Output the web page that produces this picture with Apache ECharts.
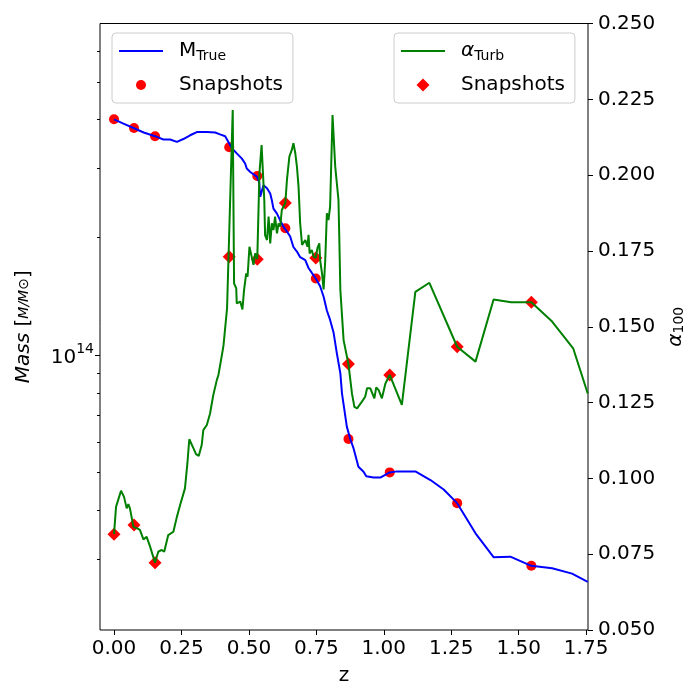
<!DOCTYPE html>
<html><head><meta charset="utf-8">
<script src="https://cdn.jsdelivr.net/npm/echarts@6/dist/echarts.min.js"></script>
<style>html,body{margin:0;padding:0;background:#fff}#c{width:700px;height:700px}</style>
</head><body><div id="c"></div>
<script>
// ---- data ----
const massZ = [0, 0.035, 0.072, 0.11, 0.152, 0.183, 0.208, 0.233, 0.257, 0.282, 0.307, 0.344, 0.375, 0.393, 0.412, 0.424, 0.437, 0.455, 0.474, 0.486, 0.492, 0.505, 0.511, 0.529, 0.538, 0.542, 0.548, 0.554, 0.567, 0.579, 0.585, 0.591, 0.604, 0.616, 0.628, 0.641, 0.653, 0.665, 0.678, 0.690, 0.709, 0.721, 0.734, 0.748, 0.764, 0.777, 0.789, 0.801, 0.814, 0.826, 0.839, 0.845, 0.863, 0.876, 0.888, 0.906, 0.925, 0.935, 0.962, 0.987, 1.022, 1.049, 1.117, 1.173, 1.222, 1.272, 1.340, 1.407, 1.469, 1.547, 1.624, 1.698, 1.756];
const massVal = [4.01e14, 3.91e14, 3.81e14, 3.71e14, 3.63e14, 3.56e14, 3.56e14, 3.51e14, 3.57e14, 3.65e14, 3.72e14, 3.72e14, 3.71e14, 3.67e14, 3.63e14, 3.51e14, 3.38e14, 3.28e14, 3.18e14, 3.09e14, 3.00e14, 2.94e14, 2.92e14, 2.86e14, 2.77e14, 2.54e14, 2.54e14, 2.72e14, 2.67e14, 2.59e14, 2.49e14, 2.37e14, 2.30e14, 2.21e14, 2.13e14, 2.07e14, 2.01e14, 1.89e14, 1.84e14, 1.78e14, 1.75e14, 1.67e14, 1.62e14, 1.57e14, 1.50e14, 1.41e14, 1.30e14, 1.23e14, 1.14e14, 1.01e14, 8.98e13, 7.98e13, 6.56e13, 6.09e13, 5.77e13, 5.18e13, 5.03e13, 4.90e13, 4.86e13, 4.86e13, 5.01e13, 5.04e13, 5.04e13, 4.79e13, 4.53e13, 4.18e13, 3.50e13, 3.04e13, 3.05e13, 2.89e13, 2.85e13, 2.76e13, 2.63e13];

const alphaZ = [0, 0.0074, 0.026, 0.037, 0.047, 0.053, 0.059, 0.072, 0.075, 0.086, 0.096, 0.109, 0.121, 0.134, 0.152, 0.164, 0.177, 0.186, 0.201, 0.220, 0.233, 0.245, 0.263, 0.272, 0.279, 0.292, 0.298, 0.304, 0.314, 0.325, 0.331, 0.344, 0.356, 0.368, 0.381, 0.387, 0.403, 0.406, 0.419, 0.424, 0.440, 0.445, 0.453, 0.455, 0.461, 0.468, 0.476, 0.482, 0.490, 0.495, 0.502, 0.507, 0.517, 0.523, 0.531, 0.539, 0.547, 0.552, 0.557, 0.560, 0.567, 0.573, 0.579, 0.585, 0.591, 0.597, 0.604, 0.610, 0.616, 0.622, 0.635, 0.641, 0.650, 0.659, 0.665, 0.672, 0.678, 0.684, 0.690, 0.697, 0.703, 0.709, 0.717, 0.721, 0.725, 0.733, 0.740, 0.748, 0.754, 0.761, 0.764, 0.771, 0.777, 0.783, 0.789, 0.795, 0.801, 0.810, 0.820, 0.832, 0.836, 0.839, 0.851, 0.861, 0.869, 0.882, 0.891, 0.901, 0.919, 0.931, 0.938, 0.950, 0.956, 0.965, 0.972, 0.981, 0.993, 1.006, 1.022, 1.067, 1.117, 1.169, 1.272, 1.340, 1.407, 1.472, 1.547, 1.624, 1.702, 1.756];
const alphaVal = [0.0816, 0.0906, 0.0959, 0.0939, 0.0901, 0.0915, 0.0901, 0.0840, 0.0846, 0.0835, 0.0830, 0.0799, 0.0807, 0.0774, 0.0722, 0.0758, 0.0764, 0.0758, 0.0813, 0.0824, 0.0873, 0.0912, 0.0967, 0.1050, 0.1129, 0.1104, 0.1107, 0.1080, 0.1074, 0.1110, 0.1159, 0.1176, 0.1214, 0.1275, 0.1324, 0.1341, 0.1423, 0.1440, 0.1561, 0.1566, 0.2215, 0.1643, 0.1627, 0.1577, 0.1572, 0.1583, 0.1557, 0.1621, 0.1676, 0.1665, 0.1764, 0.1770, 0.1704, 0.1742, 0.1723, 0.2006, 0.2099, 0.2094, 0.1918, 0.1802, 0.1786, 0.1863, 0.1775, 0.1841, 0.1819, 0.1863, 0.1808, 0.1841, 0.1830, 0.1885, 0.1908, 0.1984, 0.2061, 0.2083, 0.2105, 0.2072, 0.2028, 0.1962, 0.1841, 0.1770, 0.1764, 0.1786, 0.1764, 0.1803, 0.1742, 0.1753, 0.1731, 0.1727, 0.1759, 0.1775, 0.1720, 0.1676, 0.1623, 0.1720, 0.1874, 0.1852, 0.1896, 0.2198, 0.2028, 0.1918, 0.1753, 0.1621, 0.1456, 0.1412, 0.1377, 0.1280, 0.1236, 0.1231, 0.1253, 0.1269, 0.1297, 0.1297, 0.1302, 0.1264, 0.1300, 0.1291, 0.1264, 0.1313, 0.1341, 0.1242, 0.1615, 0.1645, 0.1434, 0.1385, 0.1590, 0.1581, 0.1581, 0.1517, 0.1429, 0.1280];

const snapZ = [0, 0.074, 0.152, 0.427, 0.531, 0.635, 0.748, 0.869, 1.022, 1.272, 1.547];
const snapMass = [4.01e14, 3.81e14, 3.63e14, 3.40e14, 2.87e14, 2.11e14, 1.57e14, 6.1e13, 5.01e13, 4.18e13, 2.89e13];
const snapAlpha = [0.0816, 0.0846, 0.0722, 0.1731, 0.1723, 0.1908, 0.1727, 0.1377, 0.1341, 0.1434, 0.1581];

const xTickValues = [0, 0.25, 0.5, 0.75, 1.0, 1.25, 1.5, 1.75];
const massMinorTicks = [3e13, 4e13, 5e13, 6e13, 7e13, 8e13, 9e13, 2e14, 3e14, 4e14, 5e14, 6e14];
const massMajorTicks = [1e14];
const massMajorLabels = ['{b|10}{p|14}'];

// ---- axis ranges ----
const X_MIN = -0.052, X_MAX = 1.757;
const M_MIN = 1.98e13, M_MAX = 7.05e14;
const A_MIN = 0.05, A_MAX = 0.25, A_STEP = 0.025;

const FONT = 'DejaVu Sans';
const pairs = (xs, ys) => xs.map((x, i) => [x, ys[i]]);
const L = Math.log10;

// legend diamond icon whose bounding box matches the 44x13 legend item box
const DIAMOND_ICON = 'path://M-22,-6.5L-22,-6.5M22,6.5L22,6.5M0,-6.5L6.5,0L0,6.5L-6.5,0Z';

const chart = echarts.init(document.getElementById('c'), null, {renderer: 'canvas'});

const baseLabel = {fontSize: 20, color: '#000', fontFamily: FONT};

const legendCommon = {
  orient: 'vertical', top: 33, padding: [6, 10, 6, 6], itemGap: 10,
  itemWidth: 44, itemHeight: 10, selectedMode: false, symbolKeepAspect: true,
  backgroundColor: 'rgba(255,255,255,0.8)', borderColor: '#cccccc', borderWidth: 1, borderRadius: 4,
  textStyle: {
    fontSize: 20, color: '#000', fontFamily: FONT, lineHeight: 24, padding: [0, 0, 0, 11],
    rich: {
      m: {fontSize: 20, color: '#000', fontFamily: FONT, lineHeight: 24},
      g: {fontSize: 20, color: '#000', fontFamily: FONT, fontStyle: 'italic', lineHeight: 24},
      s: {fontSize: 14, color: '#000', fontFamily: FONT, lineHeight: 14, verticalAlign: 'bottom'}
    }
  }
};

const option = {
  animation: false,
  backgroundColor: '#fff',
  grid: {left: 100, right: 112, top: 23.5, bottom: 70, show: true, borderColor: '#000', borderWidth: 1,
         backgroundColor: 'transparent', containLabel: false, outerBoundsMode: 'none'},
  legend: [
    Object.assign({}, legendCommon, {
      left: 112,
      data: [{name: 'M_True', itemStyle: {opacity: 0}}, {name: 'SnapM', icon: 'circle'}],
      formatter: n => n === 'M_True' ? '{m|M}{s|True}' : 'Snapshots'
    }),
    Object.assign({}, legendCommon, {
      left: 394, itemHeight: 13,
      data: [{name: 'alphaTurb', itemStyle: {opacity: 0}}, {name: 'SnapA', icon: DIAMOND_ICON}],
      formatter: n => n === 'alphaTurb' ? '{g|α}{s|Turb}' : 'Snapshots'
    })
  ],
  xAxis: {
    type: 'value', min: X_MIN, max: X_MAX,
    name: 'z', nameLocation: 'middle', nameGap: 36, nameTextStyle: baseLabel,
    axisLine: {show: false, onZero: false},
    axisTick: {show: true, length: 5, inside: false, customValues: xTickValues, lineStyle: {color: '#000', width: 1}},
    axisLabel: Object.assign({customValues: xTickValues, margin: 9, formatter: v => Number(v).toFixed(2)}, baseLabel),
    splitLine: {show: false}
  },
  yAxis: [
    {type: 'log', logBase: 10, min: M_MIN, max: M_MAX, position: 'left', show: false,
     axisLine: {show: false}, axisTick: {show: false}, axisLabel: {show: false}, splitLine: {show: false}},
    {type: 'value', min: A_MIN, max: A_MAX, interval: A_STEP, position: 'right',
     name: '{a|α}{s|100}', nameLocation: 'middle', nameRotate: 90, nameGap: 68,
     nameTextStyle: {fontSize: 20, color: '#000', fontFamily: FONT,
       rich: {a: {fontSize: 20, fontStyle: 'italic', fontFamily: FONT, color: '#000'},
              s: {fontSize: 14, fontFamily: FONT, color: '#000', verticalAlign: 'bottom'}}},
     axisLine: {show: false, onZero: false},
     axisTick: {show: true, length: 5, inside: false, lineStyle: {color: '#000', width: 1}},
     axisLabel: Object.assign({margin: 10, formatter: v => Number(v).toFixed(3)}, baseLabel),
     splitLine: {show: false}},
    {type: 'value', min: L(M_MIN), max: L(M_MAX), position: 'left',
     axisLine: {show: false, onZero: false},
     axisTick: {show: true, length: 3, inside: false, customValues: massMinorTicks.map(L), lineStyle: {color: '#000', width: 1}},
     axisLabel: {show: false}, splitLine: {show: false}},
    {type: 'value', min: L(M_MIN), max: L(M_MAX), position: 'left',
     name: '{i|Mass} [{f|M/M⊙}]', nameLocation: 'middle', nameRotate: 90, nameGap: 66,
     nameTextStyle: {fontSize: 20, color: '#000', fontFamily: FONT,
       rich: {i: {fontSize: 20, fontStyle: 'italic', fontFamily: FONT, color: '#000'},
              f: {fontSize: 14, fontStyle: 'italic', fontFamily: FONT, color: '#000'}}},
     axisLine: {show: false, onZero: false},
     axisTick: {show: true, length: 5, inside: false, customValues: massMajorTicks.map(L), lineStyle: {color: '#000', width: 1}},
     axisLabel: Object.assign({customValues: massMajorTicks.map(L), margin: 6,
       formatter: v => massMajorLabels[massMajorTicks.map(L).findIndex(t => Math.abs(t - v) < 1e-6)] || '',
       rich: {b: {fontSize: 20, fontFamily: FONT, color: '#000', lineHeight: 26, verticalAlign: 'bottom'},
              p: {fontSize: 14, fontFamily: FONT, color: '#000', lineHeight: 14, verticalAlign: 'top'}}}, baseLabel),
     splitLine: {show: false}}
  ],
  series: [
    {name: 'SnapM', type: 'scatter', xAxisIndex: 0, yAxisIndex: 0, data: pairs(snapZ, snapMass),
     symbol: 'circle', symbolSize: 10, itemStyle: {color: '#ff0000', opacity: 1}, z: 2, silent: true},
    {name: 'M_True', type: 'line', xAxisIndex: 0, yAxisIndex: 0, data: pairs(massZ, massVal),
     symbol: 'none', showSymbol: false, lineStyle: {color: '#0000ff', width: 2}, itemStyle: {color: '#0000ff'}, z: 3, silent: true},
    {name: 'SnapA', type: 'scatter', xAxisIndex: 0, yAxisIndex: 1, data: pairs(snapZ, snapAlpha),
     symbol: 'diamond', symbolSize: 13, itemStyle: {color: '#ff0000', opacity: 1}, z: 4, silent: true},
    {name: 'alphaTurb', type: 'line', xAxisIndex: 0, yAxisIndex: 1, data: pairs(alphaZ, alphaVal),
     symbol: 'none', showSymbol: false, lineStyle: {color: '#008000', width: 2}, itemStyle: {color: '#008000'}, z: 5, silent: true}
  ]
};
chart.setOption(option);
</script>
</body></html>
